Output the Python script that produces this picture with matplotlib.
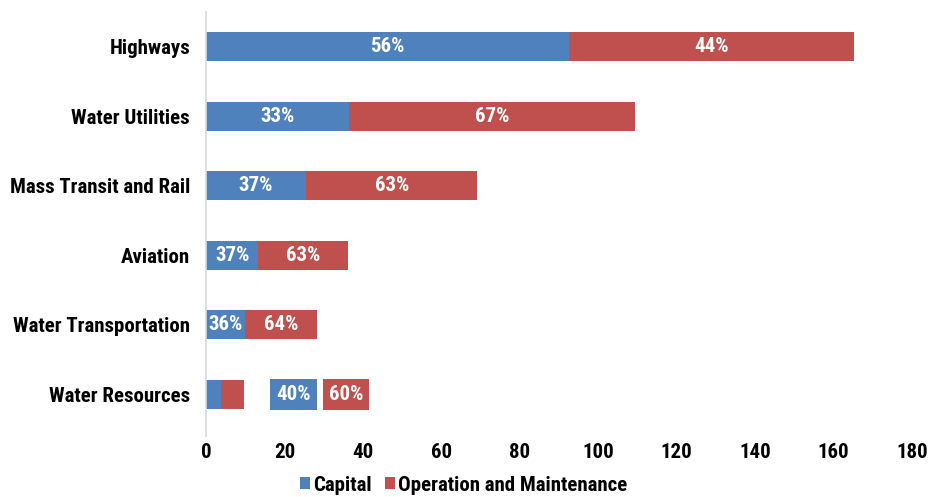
import matplotlib.pyplot as plt
import numpy as np

categories = ["Water Resources", "Water Transportation", "Aviation",
              "Mass Transit and Rail", "Water Utilities", "Highways"]
capital = [3.9, 10.0, 13.3, 25.5, 36.5, 92.5]
operation = [5.8, 18.2, 23.0, 43.7, 72.8, 72.8]
capital_pct = ["40%", "36%", "37%", "37%", "33%", "56%"]
operation_pct = ["60%", "64%", "63%", "63%", "67%", "44%"]
xticks = [0, 20, 40, 60, 80, 100, 120, 140, 160, 180]

blue = "#4F81BD"
red = "#C0504D"

plt.rcParams['font.family'] = ['Roboto Condensed', 'DejaVu Sans']
plt.rcParams['font.weight'] = 'bold'

fig = plt.figure(figsize=(9.31, 4.97), dpi=100)
ax = fig.add_axes([0.2213, 0.1227, 0.7583, 0.8533])

y = np.arange(len(categories))
h = 0.42
ax.barh(y, capital, height=h, color=blue, label="Capital")
ax.barh(y, operation, height=h, left=capital, color=red, label="Operation and Maintenance")

fs = 15
# percent labels inside the segments (the smallest bar gets boxed labels beside it)
for i in range(len(categories)):
    if i == 0:
        ax.text(22.4, y[i], capital_pct[i], color="white", fontsize=fs, fontweight="bold",
                ha="center", va="center",
                bbox=dict(boxstyle="square,pad=0.3", facecolor=blue, edgecolor="none"))
        ax.text(35.7, y[i], operation_pct[i], color="white", fontsize=fs, fontweight="bold",
                ha="center", va="center",
                bbox=dict(boxstyle="square,pad=0.3", facecolor=red, edgecolor="none"))
        continue
    ax.text(capital[i] / 2, y[i], capital_pct[i], color="white", fontsize=fs,
            fontweight="bold", ha="center", va="center")
    ax.text(capital[i] + operation[i] / 2, y[i], operation_pct[i], color="white",
            fontsize=fs, fontweight="bold", ha="center", va="center")

ax.set_xlim(0, 180)
ax.set_ylim(-0.6, 5.5)
ax.set_xticks(xticks)
ax.set_yticks(y)
ax.set_yticklabels(categories)
ax.tick_params(axis="both", length=0, labelsize=fs)
ax.tick_params(axis="x", pad=5)
ax.tick_params(axis="y", pad=11.5)

for s in ["top", "right", "bottom"]:
    ax.spines[s].set_visible(False)
ax.spines["left"].set_color("#d9d9d9")
ax.spines["left"].set_linewidth(1.2)

handles, labels = ax.get_legend_handles_labels()
fig.legend(handles, labels, loc="center", bbox_to_anchor=(0.498, 0.024), ncol=2,
           frameon=False, fontsize=fs, handlelength=0.5, handleheight=0.5,
           handletextpad=0.15, columnspacing=0.6, borderpad=0)

fig.savefig("out.png", dpi=100)
